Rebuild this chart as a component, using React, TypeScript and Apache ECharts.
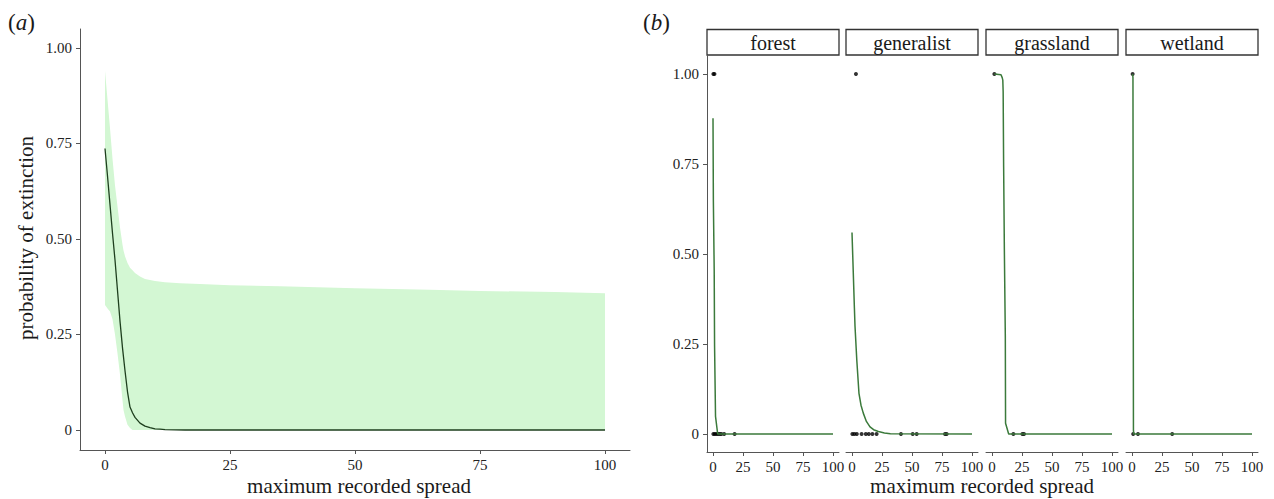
import React, { useEffect, useRef } from "react";
import * as echarts from "echarts";

// ---------- Panel (a) data ----------
const BAND_X = [0, 0.5, 1, 1.5, 2, 2.5, 3, 3.5, 3.7, 4, 4.5, 5, 5.5, 6, 7, 8, 10, 12, 15, 19, 25, 35, 50, 65, 75, 90, 100];
const BAND_UPPER = [0.94, 0.865, 0.79, 0.71, 0.64, 0.585, 0.53, 0.485, 0.47, 0.455, 0.437, 0.425, 0.418, 0.411, 0.402, 0.395, 0.39, 0.387, 0.384, 0.382, 0.379, 0.376, 0.371, 0.367, 0.364, 0.361, 0.358];
const BAND_LOWER = [0.327, 0.318, 0.31, 0.29, 0.25, 0.2, 0.145, 0.078, 0.052, 0.035, 0.014, 0.005, 0, 0, 0, 0, 0, 0, 0, 0, 0, 0, 0, 0, 0, 0, 0];
const MEAN_X = [0, 0.5, 1, 1.5, 2, 2.5, 3, 3.5, 4, 4.5, 5, 5.5, 6, 7, 8, 9, 10, 11, 12, 14, 16, 20, 30, 50, 75, 100];
const MEAN_Y = [0.737, 0.665, 0.59, 0.515, 0.445, 0.365, 0.285, 0.215, 0.155, 0.1, 0.06, 0.045, 0.033, 0.018, 0.01, 0.006, 0.003, 0.002, 0.001, 0.0005, 0, 0, 0, 0, 0, 0];

// ---------- Panel (b) data ----------
const FACETS = ["forest", "generalist", "grassland", "wetland"];
const CURVE_X = [
  [0, 0.3, 1.0, 1.3, 2.1, 3.9, 100],
  [0, 1, 2, 2.5, 4, 5.8, 7.5, 9.4, 12, 15, 18, 22, 27, 32, 100],
  [2, 7.5, 8.5, 9, 9.3, 9.7, 10.3, 11.1, 11.3, 13.9, 100],
  [0.5, 0.8, 1.0, 1.2, 1.5, 100],
];
const CURVE_Y = [
  [0.877, 0.65, 0.455, 0.247, 0.049, 0, 0],
  [0.56, 0.455, 0.35, 0.3, 0.205, 0.113, 0.08, 0.058, 0.035, 0.02, 0.012, 0.007, 0.003, 0.001, 0],
  [1, 0.998, 0.99, 0.983, 0.95, 0.743, 0.512, 0.271, 0.03, 0, 0],
  [1, 0.99, 0.5, 0.01, 0, 0],
];
const EXTINCT_X = [[0.3, 1.2], [3.3], [2], [0.5]];
const SURVIVE_X = [
  [0.3, 1.5, 2.9, 4.3, 5.7, 7, 9.3, 18],
  [0.3, 2, 4, 8, 11.5, 14, 17, 20.5, 40.8, 50.6, 53.9, 77.5, 78.9],
  [17.8, 25.3, 26.7],
  [1, 5, 33.5],
];

const X_TICKS = [0, 25, 50, 75, 100];
const Y_TICKS = [0, 0.25, 0.5, 0.75, 1];

const FONT = "'Liberation Serif', 'Times New Roman', serif";
const AXIS_COLOR = "#555";
const TEXT_COLOR = "#222";

const FACET_LEFTS = [707, 846, 986, 1126];
const FACET_W = 132;

function yFmt(v: number) {
  return v === 0 ? "0" : v.toFixed(2);
}

function xAxisCfg(gridIndex: number) {
  return {
    gridIndex,
    type: "value",
    min: -5,
    max: 105,
    axisLine: { show: true, onZero: false, lineStyle: { color: AXIS_COLOR, width: 1 } },
    axisTick: { show: true, length: 4, customValues: X_TICKS, lineStyle: { color: AXIS_COLOR } },
    axisLabel: { customValues: X_TICKS, margin: 7, fontSize: 15, fontFamily: FONT, color: TEXT_COLOR },
    splitLine: { show: false },
  };
}

function yAxisCfg(gridIndex: number, min: number, max: number, show: boolean) {
  return {
    gridIndex,
    type: "value",
    min,
    max,
    show,
    axisLine: { show: true, onZero: false, lineStyle: { color: AXIS_COLOR, width: 1 } },
    axisTick: { show: true, length: 4, customValues: Y_TICKS, lineStyle: { color: AXIS_COLOR } },
    axisLabel: { customValues: Y_TICKS, margin: 8, fontSize: 15, fontFamily: FONT, color: TEXT_COLOR, formatter: yFmt },
    splitLine: { show: false },
  };
}

export default function App() {
  const ref = useRef<HTMLDivElement>(null);
  useEffect(() => {
    if (!ref.current) return;
    const chart = echarts.init(ref.current, undefined, { renderer: "svg" });

    const series: any[] = [
      {
        type: "custom",
        xAxisIndex: 0,
        yAxisIndex: 0,
        data: [[BAND_X[0], BAND_UPPER[0]]],
        encode: { x: 0, y: 1 },
        silent: true,
        renderItem: (_params: any, api: any) => {
          const upper = BAND_X.map((x, i) => api.coord([x, BAND_UPPER[i]]));
          const lower = BAND_X.map((x, i) => api.coord([x, BAND_LOWER[i]])).reverse();
          return {
            type: "polygon",
            shape: { points: [...upper, ...lower] },
            style: { fill: "#d3f7d3", stroke: "none" },
          };
        },
      },
      {
        type: "line",
        xAxisIndex: 0,
        yAxisIndex: 0,
        symbol: "none",
        lineStyle: { color: "#1e3f1e", width: 1.3 },
        data: MEAN_X.map((x, i) => [x, MEAN_Y[i]]),
      },
    ];

    FACETS.forEach((_, f) => {
      series.push({
        type: "line",
        xAxisIndex: f + 1,
        yAxisIndex: f + 1,
        symbol: "none",
        lineStyle: { color: "#3b7a3b", width: 1.5 },
        data: CURVE_X[f].map((x, i) => [x, CURVE_Y[f][i]]),
      });
      series.push({
        type: "scatter",
        xAxisIndex: f + 1,
        yAxisIndex: f + 1,
        symbolSize: 4,
        itemStyle: { color: "#000" },
        data: [...EXTINCT_X[f].map((x) => [x, 1]), ...SURVIVE_X[f].map((x) => [x, 0])],
      });
    });

    const centered = {
      fontFamily: FONT,
      fill: "#1a1a1a",
      align: "center",
      textAlign: "center",
      verticalAlign: "middle",
      textVerticalAlign: "middle",
    };

    const panelLabel = (letter: string, x: number) => ({
      type: "text",
      x,
      y: 22,
      style: {
        text: "({i|" + letter + "})",
        fontSize: 23,
        fontFamily: FONT,
        fill: "#1a1a1a",
        verticalAlign: "middle",
        textVerticalAlign: "middle",
        rich: { i: { fontStyle: "italic", fontSize: 23, fontFamily: FONT, fill: "#1a1a1a" } },
      },
    });

    const graphics: any[] = [
      panelLabel("a", 8),
      panelLabel("b", 643),
      {
        type: "text",
        x: 26,
        y: 238,
        rotation: Math.PI / 2,
        style: { ...centered, text: "probability of extinction", fontSize: 21 },
      },
      {
        type: "text",
        x: 359,
        y: 486,
        style: { ...centered, text: "maximum recorded spread", fontSize: 21 },
      },
      {
        type: "text",
        x: 982,
        y: 486,
        style: { ...centered, text: "maximum recorded spread", fontSize: 21 },
      },
    ];

    FACETS.forEach((name, f) => {
      graphics.push({
        type: "rect",
        shape: { x: FACET_LEFTS[f], y: 29.5, width: FACET_W, height: 25.5 },
        style: { fill: "#fff", stroke: "#333", lineWidth: 1.3 },
      });
      graphics.push({
        type: "text",
        x: FACET_LEFTS[f] + FACET_W / 2,
        y: 42.5,
        style: { ...centered, text: name, fontSize: 20 },
      });
    });

    chart.setOption({
      animation: false,
      backgroundColor: "#fff",
      grid: [
        { left: 80, top: 29, width: 550, height: 421 },
        ...FACET_LEFTS.map((l) => ({ left: l, top: 55, width: FACET_W, height: 397 })),
      ],
      xAxis: [xAxisCfg(0), ...FACETS.map((_, f) => xAxisCfg(f + 1))],
      yAxis: [
        yAxisCfg(0, -0.0524, 1.0497, true),
        ...FACETS.map((_, f) => yAxisCfg(f + 1, -0.05, 1.0528, f === 0)),
      ],
      series,
      graphic: graphics,
    });

    return () => chart.dispose();
  }, []);

  return (
    <div
      ref={ref}
      style={{ position: "fixed", left: 0, top: 0, width: 1274, height: 499, background: "#fff" }}
    />
  );
}
